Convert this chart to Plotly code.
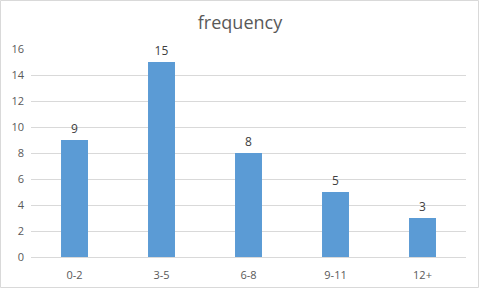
import plotly.graph_objects as go

categories = ["0-2", "3-5", "6-8", "9-11", "12+"]
frequency = [9, 15, 8, 5, 3]
y_ticks = [0, 2, 4, 6, 8, 10, 12, 14, 16]

W, H = 480, 289
L, R, T, B = 31, 14, 49, 32
pw, ph = W - L - R, H - T - B

fig = go.Figure(go.Bar(
    x=categories, y=frequency,
    marker=dict(color="#5B9BD5", line=dict(width=0)),
    text=[str(v) for v in frequency], textposition="outside",
    textfont=dict(family="Open Sans, Liberation Sans, sans-serif", size=12, color="#404040"),
    cliponaxis=False, width=0.31,
))

fig.update_layout(
    width=W, height=H,
    margin=dict(l=L, r=R, t=T, b=B),
    paper_bgcolor="white", plot_bgcolor="white",
    title=dict(text="frequency", x=0.5, xanchor="center", y=1 - 23 / H, yanchor="middle",
               font=dict(family="Open Sans, Liberation Sans, sans-serif", size=18, color="#595959")),
    font=dict(family="Open Sans, Liberation Sans, sans-serif", size=11, color="#595959"),
    showlegend=False,
    bargap=0.69,
    xaxis=dict(showgrid=False, showline=True, linecolor="#d9d9d9", linewidth=1,
               ticks="", tickfont=dict(size=11, color="#595959"), ticklabelstandoff=8,
               automargin=False),
    yaxis=dict(range=[0, 16], tickvals=y_ticks, showgrid=True, gridcolor="#d9d9d9",
               gridwidth=1, zeroline=False, showline=False, ticks="",
               tickfont=dict(size=11, color="#595959"), ticklabelstandoff=6,
               automargin=False),
    shapes=[dict(type="rect", xref="paper", yref="paper",
                 x0=(0.5 - L) / pw, x1=(W - 1.5 - L) / pw,
                 y0=-(B - 1.5) / ph, y1=1 + (T - 0.5) / ph,
                 line=dict(color="#d9d9d9", width=1), layer="below")],
)

fig.write_html("out.html")
